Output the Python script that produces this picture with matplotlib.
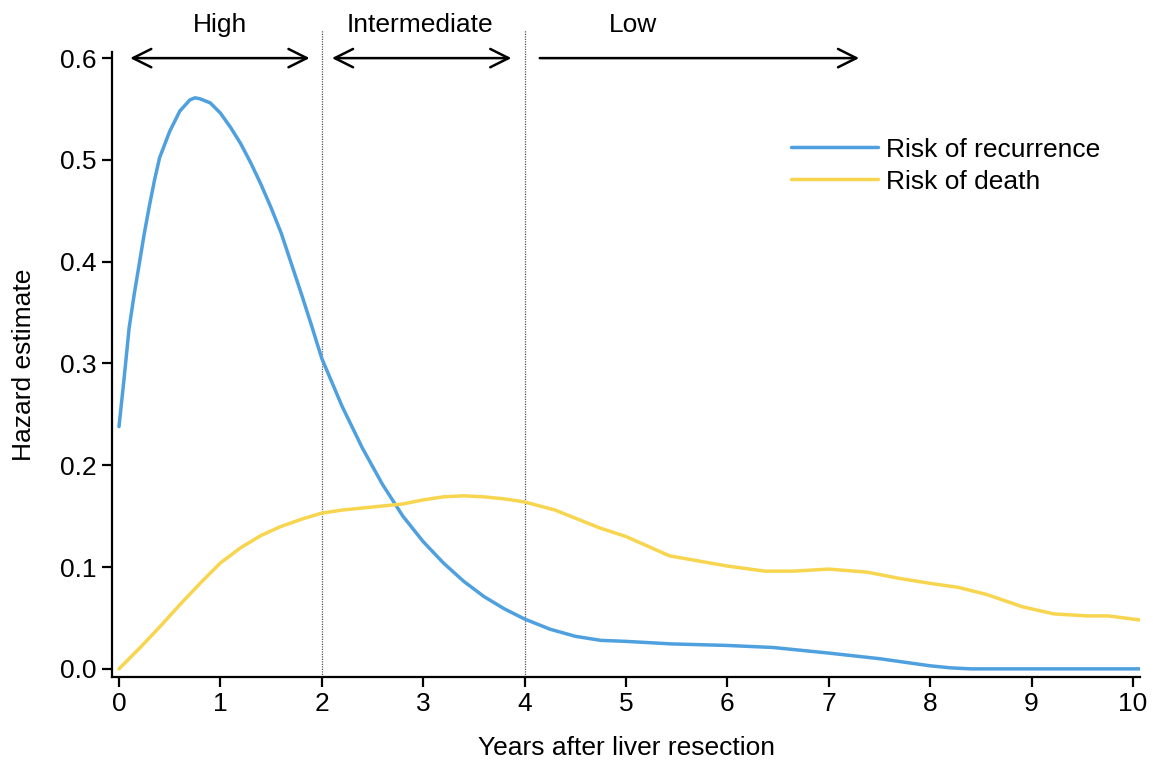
import matplotlib
matplotlib.use("Agg")
import matplotlib.pyplot as plt

plt.rcParams['font.family'] = ['Liberation Sans', 'DejaVu Sans']

# Risk of recurrence (hazard estimate)
rec_x = [0, 0.05, 0.1, 0.15, 0.2, 0.25, 0.3, 0.35, 0.4, 0.5, 0.6, 0.7, 0.75, 0.8, 0.9,
         1.0, 1.1, 1.2, 1.3, 1.4, 1.5, 1.6, 1.7, 1.8, 1.9, 2.0, 2.2, 2.4, 2.6, 2.8,
         3.0, 3.2, 3.4, 3.6, 3.8, 4.0, 4.25, 4.5, 4.75, 5.0, 5.45, 6.0, 6.45, 7.0,
         7.5, 8.0, 8.2, 8.4, 9.0, 9.5, 10.07]
rec_y = [0.238, 0.285, 0.335, 0.368, 0.398, 0.428, 0.455, 0.48, 0.502, 0.528, 0.548,
         0.559, 0.561, 0.560, 0.556, 0.546, 0.532, 0.516, 0.497, 0.476, 0.453, 0.428,
         0.398, 0.368, 0.337, 0.305, 0.258, 0.217, 0.181, 0.150, 0.125, 0.104, 0.086,
         0.071, 0.059, 0.049, 0.039, 0.032, 0.028, 0.027, 0.0245, 0.023, 0.021, 0.0155,
         0.010, 0.003, 0.001, 0.0, 0.0, 0.0, 0.0]

# Risk of death (hazard estimate)
death_x = [0, 0.2, 0.4, 0.6, 0.8, 1.0, 1.2, 1.4, 1.6, 1.8, 2.0, 2.2, 2.5, 2.8, 3.0,
           3.2, 3.4, 3.6, 3.8, 4.0, 4.3, 4.74, 5.0, 5.43, 6.0, 6.37, 6.65, 7.0, 7.38,
           7.69, 8.0, 8.28, 8.56, 8.91, 9.22, 9.55, 9.76, 10.07]
death_y = [0.0, 0.02, 0.041, 0.063, 0.084, 0.104, 0.119, 0.131, 0.140, 0.147, 0.153,
           0.156, 0.159, 0.162, 0.166, 0.169, 0.170, 0.169, 0.167, 0.164, 0.156,
           0.1385, 0.130, 0.111, 0.101, 0.096, 0.096, 0.098, 0.095, 0.089, 0.084,
           0.080, 0.073, 0.061, 0.054, 0.052, 0.052, 0.048]

xticks = list(range(0, 11))
yticks = [0.0, 0.1, 0.2, 0.3, 0.4, 0.5, 0.6]
boundaries = [2, 4]
zones = ["High", "Intermediate", "Low"]
zone_label_x = [1.0, 2.97, 5.07]
zone_arrows = [(0.11, 1.88, '<->'), (2.1, 3.87, '<->'), (4.15, 7.3, '->')]

BLUE = '#4FA0DE'
YELLOW = '#F8D54F'
FS = 19

fig = plt.figure(figsize=(11.53, 7.6), dpi=100)
ax = fig.add_axes([112/1153, 1 - 677/760, (1140-112)/1153, (677-52)/760])

ax.plot(rec_x, rec_y, color=BLUE, lw=2.5, label='Risk of recurrence', solid_capstyle='round')
ax.plot(death_x, death_y, color=YELLOW, lw=2.5, label='Risk of death', solid_capstyle='round')

ax.set_xlim(-0.069, 10.07)
ax.set_ylim(-0.008, 0.606)

for b in boundaries:
    ax.plot([b, b], [-0.008, 0.628], color='#555555', lw=0.9, ls=(0, (1, 1)),
            clip_on=False, zorder=1)

for x0, x1, st in zone_arrows:
    ax.annotate('', xy=(x1, 0.6), xytext=(x0, 0.6),
                arrowprops=dict(arrowstyle=st + ',head_length=0.6,head_width=0.3',
                                color='black', lw=1.8, mutation_scale=22,
                                shrinkA=0, shrinkB=0),
                annotation_clip=False)

for lab, lx in zip(zones, zone_label_x):
    ax.text(lx, 0.626, lab, ha='center', va='baseline', fontsize=FS, clip_on=False)

ax.set_xticks(xticks)
ax.set_yticks(yticks)
ax.set_yticklabels([f"{v:.1f}" for v in yticks])
ax.tick_params(axis='both', direction='out', length=7, width=1.6, labelsize=FS, pad=4)
for s in ['top', 'right']:
    ax.spines[s].set_visible(False)
for s in ['left', 'bottom']:
    ax.spines[s].set_linewidth(1.6)

ax.set_xlabel('Years after liver resection', fontsize=FS, labelpad=14)
ax.set_ylabel('Hazard estimate', fontsize=FS, labelpad=17)

leg = ax.legend(loc='upper left', bbox_to_anchor=(0.637, 0.901), frameon=False,
                fontsize=FS, handlelength=3.3, handletextpad=0.3, labelspacing=0.3)

fig.savefig('out.png', dpi=100)
